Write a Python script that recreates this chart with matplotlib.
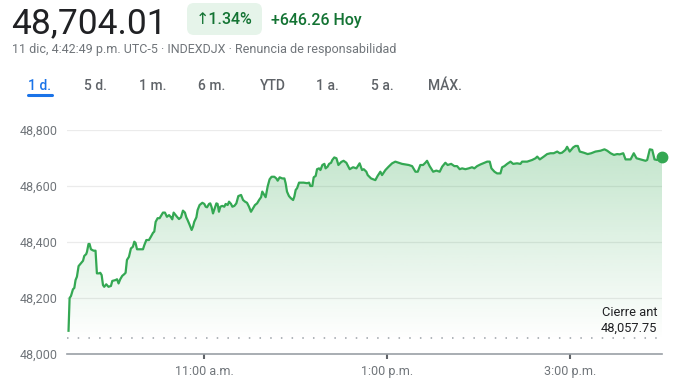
import matplotlib
matplotlib.use("Agg")
import matplotlib.pyplot as plt
import numpy as np
from matplotlib.patches import FancyBboxPatch
from matplotlib.transforms import IdentityTransform
from matplotlib.lines import Line2D

# ---------------- data ----------------
# minutes since 9:30 a.m.
minutes = [1.0,1.7,2.6,3.9,4.8,5.6,6.5,7.6,9.1,10.5,11.3,12.6,13.1,14.1,14.8,15.7,17.4,18.7,19.6,21.0,
           21.8,22.7,23.6,24.4,25.7,27.2,28.8,29.7,31.8,32.8,33.8,34.9,36.2,37.5,38.4,39.3,40.6,41.9,43.2,44.1,
           44.9,45.9,48.0,49.8,50.7,52.0,53.7,55.0,56.4,57.2,58.1,59.4,60.7,61.6,62.9,64.2,65.5,66.9,68.2,69.0,
           69.9,71.2,72.1,73.4,74.7,76.0,77.3,78.2,79.0,80.4,81.7,82.6,83.4,84.8,85.6,86.9,88.7,90.0,90.9,91.8,
           93.1,93.9,94.8,95.7,97.0,97.9,98.7,99.6,100.5,101.8,103.1,104.0,105.3,106.2,107.5,108.4,109.7,111.0,112.3,114.1,
           115.4,116.7,118.0,119.3,120.6,121.9,123.2,124.6,125.9,127.2,128.0,129.3,130.2,131.5,132.8,134.1,135.9,137.2,138.1,139.4,
           141.1,142.5,143.3,144.2,145.5,146.8,148.2,149.0,149.9,150.8,152.1,153.4,155.1,157.3,158.7,159.5,160.8,161.7,163.0,163.9,
           165.2,166.1,167.4,168.7,169.5,170.8,171.8,173.1,173.9,175.2,176.6,177.9,179.8,181.3,183.1,185.3,187.5,189.7,191.8,193.4,
           194.5,196.2,197.1,199.3,202.1,203.6,205.4,206.5,208.7,210.8,213.1,215.2,217.4,219.6,224.0,226.2,228.4,229.9,231.6,233.4,
           234.9,236.0,237.7,240.0,242.1,244.3,245.9,248.0,249.5,251.8,253.9,255.7,257.4,259.0,261.1,263.3,265.5,267.0,268.8,271.0,
           273.6,275.4,277.1,278.2,280.2,281.9,284.1,285.2,286.7,288.5,290.7,292.4,295.0,297.2,298.3,301.6,304.9,307.1,308.2,309.9,
           312.5,314.7,316.9,319.0,321.3,323.0,324.5,326.7,327.8,329.5,331.8,333.3,334.8,336.1,338.7,341.3,343.6,346.4,349.7,352.3,
           354.1,356.3,358.5,360.6,362.3,364.6,366.1,369.4,371.5,373.3,375.9,379.2,380.3,382.0,383.6,385.1,386.8,390.0]

prices = [48083,48200,48207,48231,48236,48264,48276,48314,48324,48333,48350,48357,48365,48393,48393,48374,48369,48369,48288,48288,
          48290,48282,48246,48240,48249,48240,48243,48261,48264,48267,48252,48267,48279,48285,48290,48336,48347,48377,48383,48401,
          48397,48374,48374,48374,48389,48407,48407,48419,48433,48437,48472,48485,48485,48493,48505,48505,48490,48496,48488,48481,
          48505,48496,48490,48482,48488,48512,48505,48488,48479,48461,48443,48455,48472,48488,48514,48532,48540,48536,48526,48524,
          48536,48538,48524,48502,48524,48538,48536,48508,48526,48529,48526,48536,48532,48544,48536,48526,48529,48538,48564,48568,
          48550,48544,48540,48526,48508,48520,48532,48538,48550,48560,48580,48568,48560,48598,48624,48633,48633,48627,48619,48631,
          48627,48627,48610,48580,48564,48556,48550,48562,48586,48592,48612,48612,48612,48610,48612,48600,48600,48631,48636,48660,
          48663,48657,48675,48679,48663,48669,48679,48683,48693,48702,48699,48675,48686,48690,48683,48660,48667,48663,48681,48657,
          48660,48651,48639,48627,48621,48636,48651,48639,48657,48669,48681,48687,48683,48679,48675,48671,48651,48651,48675,48675,
          48683,48690,48671,48651,48655,48651,48669,48683,48675,48679,48671,48671,48660,48663,48660,48663,48667,48663,48671,48677,
          48683,48687,48687,48663,48651,48645,48645,48667,48671,48679,48687,48679,48681,48679,48687,48687,48693,48699,48705,48695,
          48705,48714,48717,48717,48723,48717,48719,48729,48740,48723,48738,48743,48743,48723,48719,48714,48717,48723,48726,48731,
          48726,48717,48711,48714,48713,48717,48695,48695,48717,48699,48695,48690,48693,48731,48729,48695,48693,48704.01]

prev_close = 48057.75
yticks = [48000, 48200, 48400, 48600, 48800]
ytick_labels = ["48,000", "48,200", "48,400", "48,600", "48,800"]
xtick_minutes = [90, 210, 330]
xtick_labels = ["11:00 a.m.", "1:00 p.m.", "3:00 p.m."]
tabs = ["1 d.", "5 d.", "1 m.", "6 m.", "YTD", "1 a.", "5 a.", "MÁX."]

if len(minutes) != len(prices):
    raise ValueError(f"length mismatch {len(minutes)} vs {len(prices)}")

# ---------------- figure ----------------
W, H = 691, 392
plt.rcParams['font.family'] = ['Roboto', 'DejaVu Sans']
fig = plt.figure(figsize=(W / 100, H / 100), dpi=100)
fig.patch.set_facecolor('white')

def fx(x):
    return x / W

def fy(y):
    return 1 - y / H

GREEN = '#34a853'
ax = fig.add_axes([fx(67), fy(354), (662 - 67) / W, 224 / H])
ax.set_facecolor('none')

# gradient fill under line
poly = ax.fill_between(minutes, prices, 48000, facecolor='none', edgecolor='none', lw=0)
N = 256
ys = np.linspace(48000, 48760, N)
alpha = np.clip((ys - 48050) / 700.0, 0, 1) * 0.30
grad = np.zeros((N, 1, 4))
grad[:, 0, 0] = 52 / 255
grad[:, 0, 1] = 168 / 255
grad[:, 0, 2] = 83 / 255
grad[:, 0, 3] = alpha
im = ax.imshow(grad, extent=[0, 390, 48000, 48760], origin='lower', aspect='auto',
               interpolation='bilinear', zorder=1)
im.set_clip_path(poly.get_paths()[0], transform=ax.transData)

# grid
for yv in yticks[1:]:
    ax.axhline(yv, color='#ebebeb', lw=0.9, zorder=0)

# previous close dotted line
ax.axhline(prev_close, color='#9aa0a6', lw=1.1, linestyle=(0, (1, 6)), zorder=2)

# price line and end dot
ax.plot(minutes, prices, color=GREEN, lw=1.6, zorder=3, solid_joinstyle='round')
ax.plot([minutes[-1]], [prices[-1]], 'o', color=GREEN, ms=7.5, zorder=4, clip_on=False)

ax.set_xlim(0, 390)
ax.set_ylim(48000, 48800)

ax.set_yticks(yticks)
ax.set_yticklabels(ytick_labels)
ax.set_xticks(xtick_minutes)
ax.set_xticklabels(xtick_labels)
ax.tick_params(axis='y', length=0, pad=6.5, labelsize=9, labelcolor='#70757a')
ax.tick_params(axis='x', length=3.6, width=1.5, color='#5f6368', pad=4,
               labelsize=9, labelcolor='#70757a')
for s in ['top', 'right', 'left']:
    ax.spines[s].set_visible(False)
ax.spines['bottom'].set_color('#9aa0a6')
ax.spines['bottom'].set_linewidth(1.2)

# previous close annotation
fig.text(fx(657), fy(312), "Cierre ant", ha='right', va='center', fontsize=9.3, color='#202124')
fig.text(fx(657), fy(328.5), "48,057.75", ha='right', va='center', fontsize=9.3, color='#202124')

# ---------------- header ----------------
fig.text(fx(11), fy(33), "48,704.01", ha='left', va='baseline', fontsize=25.5, color='#202124')

badge = FancyBboxPatch((187, H - 35), 75, 32, boxstyle="round,pad=0,rounding_size=7",
                       transform=IdentityTransform(), facecolor='#e6f4ea', edgecolor='none')
fig.add_artist(badge)
fig.text(fx(196), fy(20), "↑1.34%", ha='left', va='center', fontsize=11.5, color='#137333',
         fontweight='medium')
fig.text(fx(271), fy(20), "+646.26 Hoy", ha='left', va='center', fontsize=11.5, color='#137333',
         fontweight='medium')

fig.text(fx(12), fy(50), "11 dic, 4:42:49 p.m. UTC-5 · INDEXDJX · Renuncia de responsabilidad",
         ha='left', va='center', fontsize=9, color='#70757a')

tab_centers = [39.5, 95, 152.5, 212, 272.5, 327.5, 382.5, 444.5]
for i, (t, cx) in enumerate(zip(tabs, tab_centers)):
    fig.text(fx(cx), fy(86), t, ha='center', va='center', fontsize=10, fontweight='medium',
             color='#1a73e8' if i == 0 else '#5f6368')
fig.add_artist(Line2D([fx(28), fx(52)], [fy(95), fy(95)], transform=fig.transFigure,
                      color='#1a73e8', lw=2.2, solid_capstyle='round'))

fig.savefig("out.png", dpi=100, facecolor='white')
